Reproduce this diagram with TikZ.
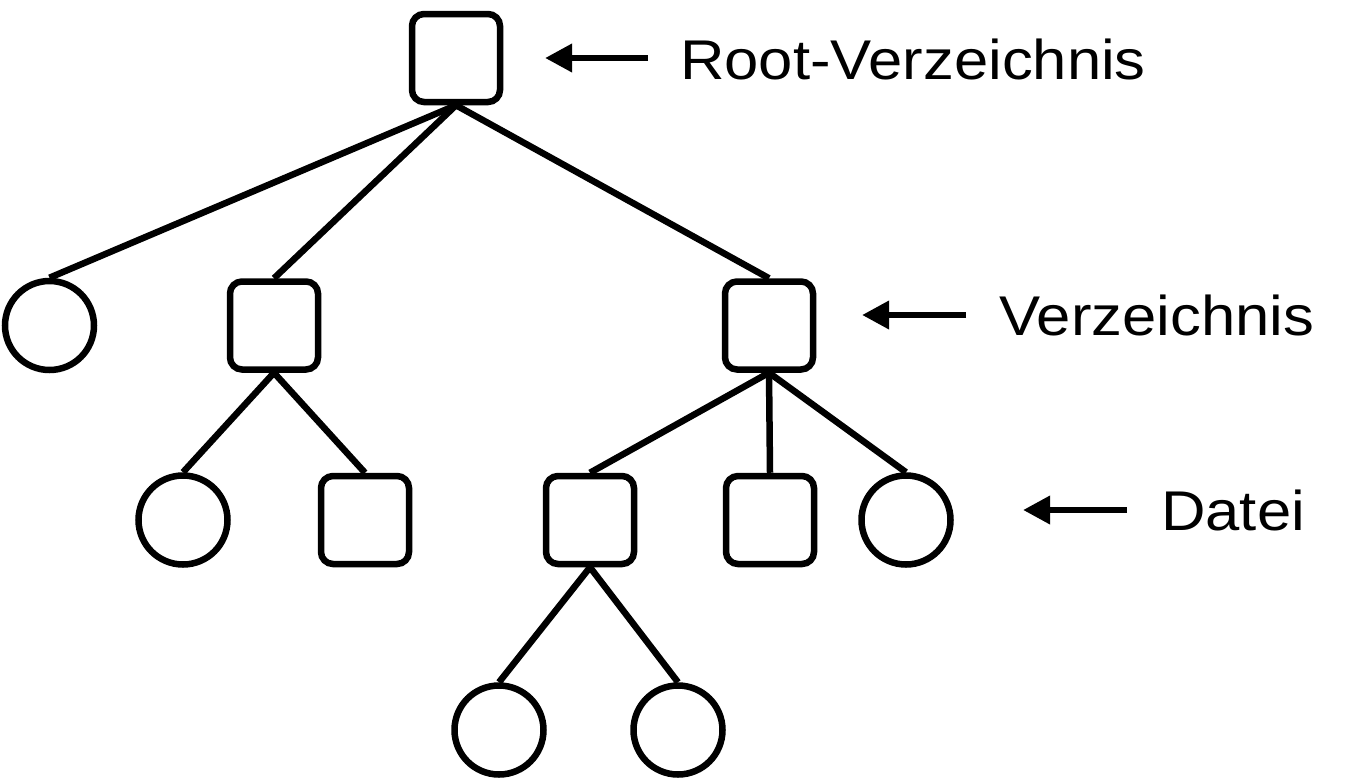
\documentclass[tikz,border=0pt]{standalone}
\usepackage{fontspec}
\setmainfont{Liberation Sans}[FakeStretch=1.1]
\usetikzlibrary{arrows.meta}
\tikzset{
  dirbox/.style={draw, line width=6.5pt, rounded corners=12pt, minimum size=88pt, inner sep=0pt},
  filecirc/.style={draw, circle, line width=6.5pt, minimum size=89pt, inner sep=0pt},
  edge/.style={line width=6.5pt},
  pointer/.style={line width=6.5pt, -{Triangle[length=27pt,width=27pt]}},
  lbl/.style={anchor=base west, inner sep=0pt, font=\fontsize{56}{60}\selectfont}
}
\begin{document}
\begin{tikzpicture}[x=1pt,y=-1pt]
\useasboundingbox (0,0) rectangle (1354,782);
% nodes
\node[dirbox] (root) at (456,58) {};
\node[filecirc] (c1) at (49.5,325.5) {};
\node[dirbox] (s1) at (274,325.5) {};
\node[dirbox] (s2) at (769,325.5) {};
\node[filecirc] (c2) at (183,520) {};
\node[dirbox] (s3) at (365,520) {};
\node[dirbox] (s4) at (590,520) {};
\node[dirbox] (s5) at (770,520) {};
\node[filecirc] (c3) at (906,520) {};
\node[filecirc] (c4) at (499,730) {};
\node[filecirc] (c5) at (678,730) {};
% edges
\draw[edge] (root.south) -- (c1.north);
\draw[edge] (root.south) -- (s1.north);
\draw[edge] (root.south) -- (s2.north);
\draw[edge] (s1.south) -- (c2.north);
\draw[edge] (s1.south) -- (s3.north);
\draw[edge] (s2.south) -- (s4.north);
\draw[edge] (s2.south) -- (s5.north);
\draw[edge] (s2.south) -- (c3.north);
\draw[edge] (s4.south) -- (c4.north);
\draw[edge] (s4.south) -- (c5.north);
% labels with pointers
\coordinate (a1t) at (648,58);  \coordinate (a1h) at (545,58);
\coordinate (a2t) at (966,315); \coordinate (a2h) at (862,315);
\coordinate (a3t) at (1127,510); \coordinate (a3h) at (1023,510);
\draw[pointer] (a1t) -- (a1h);
\draw[pointer] (a2t) -- (a2h);
\draw[pointer] (a3t) -- (a3h);
\node[lbl] (l1) at (680,79) {Root-Verzeichnis};
\node[lbl] (l2) at (999,335) {Verzeichnis};
\node[lbl] (l3) at (1161,530) {Datei};
\end{tikzpicture}
\end{document}
